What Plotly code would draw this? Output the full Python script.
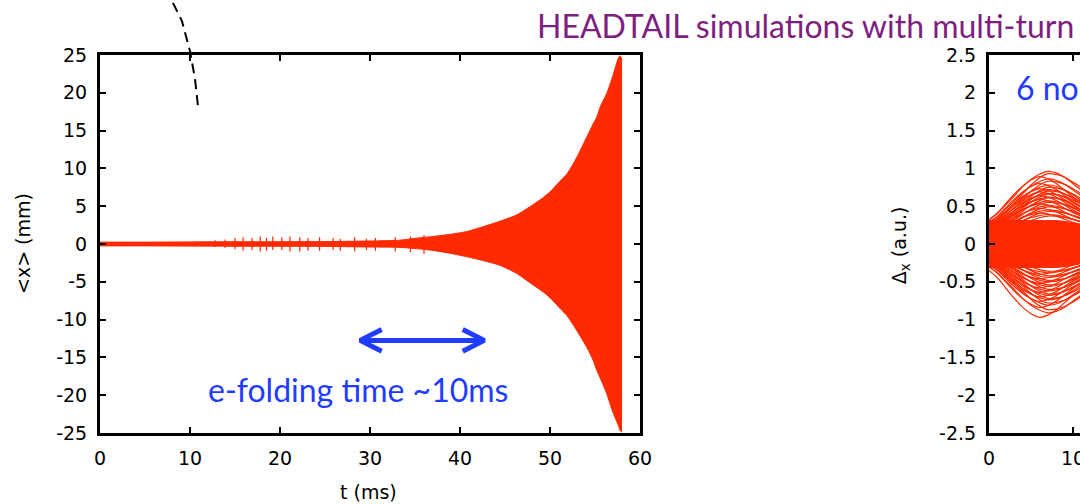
import plotly.graph_objects as go

# ---------------- data ----------------
# Left panel: envelope of the centroid oscillation <x> (mm) vs t (ms)
env_t  = [0, 5, 10, 15, 20, 25, 30, 33.3, 35.0, 37.0, 39.0, 40.8, 42.6, 44.4, 46.3, 48.1, 49.2,
          50.0, 51.1, 51.9, 53.0, 54.1, 54.8, 55.2, 55.6, 56.3, 57.0, 57.6, 57.8, 58.0]
env_up = [0.25, 0.25, 0.28, 0.3, 0.3, 0.32, 0.4, 0.5, 0.75, 1.0, 1.3, 1.66, 2.3, 3.0, 3.85, 5.2, 6.1,
          6.9, 8.3, 9.3, 11.5, 14.2, 15.9, 16.8, 18.2, 19.9, 22.3, 24.6, 24.9, 24.3]
env_dn = [-0.25, -0.25, -0.28, -0.3, -0.3, -0.32, -0.4, -0.45, -0.6, -0.85, -1.25, -1.7, -2.2, -2.8, -3.9, -5.4, -6.3,
          -7.1, -8.5, -9.5, -11.5, -13.7, -15.4, -16.7, -17.8, -19.8, -22.3, -24.0, -24.7, -24.9]

# beating spikes in the early part of the signal
spike_t  = [12.8, 13.9, 15.0, 15.9, 16.9, 17.8, 18.5, 19.2, 20.2, 21.1, 22.2, 23.1, 24.4, 25.9, 26.7, 28.3, 29.6, 30.6, 32.8, 34.5, 36.0]
spike_up = [0.5, 0.6, 0.8, 0.9, 0.8, 1.0, 0.8, 1.0, 0.9, 1.0, 0.9, 0.8, 0.9, 0.8, 0.7, 0.9, 0.7, 0.8, 0.9, 1.0, 1.2]
spike_dn = [-0.4, -0.5, -0.7, -0.9, -0.8, -1.0, -0.9, -0.8, -0.8, -1.0, -1.0, -0.9, -0.9, -0.8, -0.9, -1.0, -0.8, -0.9, -1.0, -1.1, -1.3]

# Right panel: intra-bunch displacement Delta_x (a.u.)
pos_x     = [0, 1, 2, 3, 4, 5, 6, 7, 8, 9, 10, 11]
profile_a = [0.33, 0.42, 0.54, 0.66, 0.79, 0.89, 0.96, 1.0, 0.98, 0.92, 0.83, 0.74]
profile_b = [0.30, 0.36, 0.46, 0.58, 0.71, 0.84, 0.94, 1.0, 0.99, 0.95, 0.88, 0.80]
profile_c = [0.36, 0.46, 0.60, 0.74, 0.86, 0.95, 1.0, 0.97, 0.90, 0.80, 0.70, 0.62]
core_up   = [0.31, 0.31, 0.31, 0.32, 0.32, 0.32, 0.32, 0.32, 0.31, 0.30, 0.28, 0.26]
core_dn   = [-0.31, -0.31, -0.31, -0.32, -0.32, -0.32, -0.32, -0.32, -0.31, -0.30, -0.28, -0.26]
trace_peaks = [0.96, 0.93, 0.89, 0.86, 0.83, 0.80, 0.78, 0.75, 0.73, 0.72, 0.70, 0.69, 0.67, 0.66,
               0.64, 0.62, 0.61, 0.59, 0.57, 0.55, 0.53, 0.51, 0.49, 0.47, 0.45, 0.43, 0.41, 0.39, 0.37,
               -0.97, -0.91, -0.87, -0.84, -0.81, -0.78, -0.76, -0.74, -0.72, -0.70, -0.68, -0.66,
               -0.64, -0.62, -0.60, -0.58, -0.56, -0.54, -0.52, -0.50, -0.48, -0.46, -0.44, -0.42,
               -0.40, -0.38, -0.36]

# axis ticks
left_xticks  = [0, 10, 20, 30, 40, 50, 60]
left_yticks  = [-25, -20, -15, -10, -5, 0, 5, 10, 15, 20, 25]
right_xticks = [0, 10]
right_yticks = [-2.5, -2, -1.5, -1, -0.5, 0, 0.5, 1, 1.5, 2, 2.5]

# decorations
dash_t = [8.1, 9.1, 10.0, 10.55, 10.9]
dash_y = [31.9, 29.5, 25.5, 21.9, 18.1]
arrow_start, arrow_end, arrow_y = 28.9, 42.7, -12.75

RED = '#ff2a00'
BLUE = '#1f3cff'
PURPLE = '#7d1f80'
TICKFONT = dict(family='DejaVu Sans, Liberation Sans, sans-serif', size=19, color='black')
TEXTFONT = 'Lato'


def fmt(v):
    return '%g' % v  # keeps an ASCII hyphen for negatives


fig = go.Figure()

# ---- left panel ----
fig.add_trace(go.Scatter(x=env_t, y=env_dn, mode='lines', line=dict(color=RED, width=1, shape='spline', smoothing=0.6),
                         xaxis='x', yaxis='y', showlegend=False, hoverinfo='skip'))
fig.add_trace(go.Scatter(x=env_t, y=env_up, mode='lines', line=dict(color=RED, width=1, shape='spline', smoothing=0.6),
                         fill='tonexty', fillcolor=RED, xaxis='x', yaxis='y',
                         showlegend=False, hoverinfo='skip'))
sx, sy = [], []
for t, u, d in zip(spike_t, spike_up, spike_dn):
    sx += [t, t, None]
    sy += [d, u, None]
fig.add_trace(go.Scatter(x=sx, y=sy, mode='lines', line=dict(color=RED, width=1.2),
                         xaxis='x', yaxis='y', showlegend=False, hoverinfo='skip'))

# arrow (double headed, open chevrons)
hx, hy = 2.4, 1.45
ax = [arrow_start, arrow_end, None,
      arrow_start + hx, arrow_start, arrow_start + hx, None,
      arrow_end - hx, arrow_end, arrow_end - hx]
ay = [arrow_y, arrow_y, None,
      arrow_y + hy, arrow_y, arrow_y - hy, None,
      arrow_y + hy, arrow_y, arrow_y - hy]
fig.add_trace(go.Scatter(x=ax, y=ay, mode='lines', line=dict(color=BLUE, width=5),
                         xaxis='x', yaxis='y', showlegend=False, hoverinfo='skip'))

# ---- right panel ----
fig.add_trace(go.Scatter(x=pos_x, y=core_dn, mode='lines', line=dict(color=RED, width=1),
                         xaxis='x2', yaxis='y2', showlegend=False, hoverinfo='skip'))
fig.add_trace(go.Scatter(x=pos_x, y=core_up, mode='lines', line=dict(color=RED, width=1),
                         fill='tonexty', fillcolor=RED, xaxis='x2', yaxis='y2',
                         showlegend=False, hoverinfo='skip'))
profiles = [profile_a, profile_b, profile_c]
for i, pk in enumerate(trace_peaks):
    prof = profiles[i % 3]
    fig.add_trace(go.Scatter(x=pos_x, y=[pk * p for p in prof], mode='lines',
                             line=dict(color=RED, width=1.2, shape='spline'),
                             xaxis='x2', yaxis='y2', showlegend=False, hoverinfo='skip'))

axis_common = dict(showline=True, linecolor='black', linewidth=3, ticks='inside',
                   ticklen=6, tickwidth=2, tickcolor='black', showgrid=False,
                   zeroline=False, tickfont=TICKFONT, automargin=False,
                   ticklabeloverflow='allow')

L_END = 540 / 980
R_START = 889 / 980

fig.update_layout(
    width=1080, height=504,
    margin=dict(l=100, r=0, t=55, b=71),
    paper_bgcolor='white', plot_bgcolor='white',
    xaxis=dict(domain=[0, L_END], range=[0, 60], mirror='ticks',
               tickvals=left_xticks, ticktext=[fmt(v) for v in left_xticks],
               ticklabelstandoff=6, **axis_common),
    yaxis=dict(domain=[0, 1], range=[-25, 25], mirror='ticks',
               tickvals=left_yticks, ticktext=[fmt(v) for v in left_yticks],
               ticklabelstandoff=6, **axis_common),
    xaxis2=dict(domain=[R_START, 1], range=[0, 91 / 8.4], mirror='ticks',
                tickvals=right_xticks, ticktext=[fmt(v) for v in right_xticks],
                anchor='y2', ticklabelstandoff=6, **axis_common),
    yaxis2=dict(domain=[0, 1], range=[-2.5, 2.5], anchor='x2',
                tickvals=right_yticks, ticktext=[fmt(v) for v in right_yticks],
                ticklabelstandoff=6, **axis_common),
)

# dashed curve in the upper left
path = 'M ' + ' L '.join(f'{t},{(y + 25) / 50}' for t, y in zip(dash_t, dash_y))
fig.add_shape(type='path', path=path, xref='x', yref='paper',
              line=dict(color='black', width=2, dash='10px,6px'))

annos = [
    dict(text='HEADTAIL simulations with multi-turn', xref='paper', yref='paper',
         x=(1076 - 100) / 980, y=(433 - 25) / 378, xanchor='right', yanchor='middle',
         font=dict(family=TEXTFONT, size=32, color=PURPLE)),
    dict(text='e-folding time ~10ms', xref='x', yref='y', x=28.7, y=-19.3,
         xanchor='center', yanchor='middle', font=dict(family=TEXTFONT, size=32, color=BLUE)),
    dict(text='6 no', xref='x2', yref='y2', x=3.0, y=2.07,
         xanchor='left', yanchor='middle', font=dict(family=TEXTFONT, size=32, color=BLUE)),
    dict(text='&lt;x&gt; (mm)', xref='paper', yref='paper', x=(23 - 100) / 980, y=0.5,
         textangle=-90, xanchor='center', yanchor='middle', font=TICKFONT),
    dict(text='t (ms)', xref='x', yref='paper', x=29.8, y=(433 - 492) / 378,
         xanchor='center', yanchor='middle', font=TICKFONT),
    dict(text='Δ<sub>x</sub> (a.u.)', xref='paper', yref='paper', x=(900 - 100) / 980, y=0.497,
         textangle=-90, xanchor='center', yanchor='middle', font=TICKFONT),
]
for a in annos:
    fig.add_annotation(showarrow=False, **a)

fig.write_html('out.html')
